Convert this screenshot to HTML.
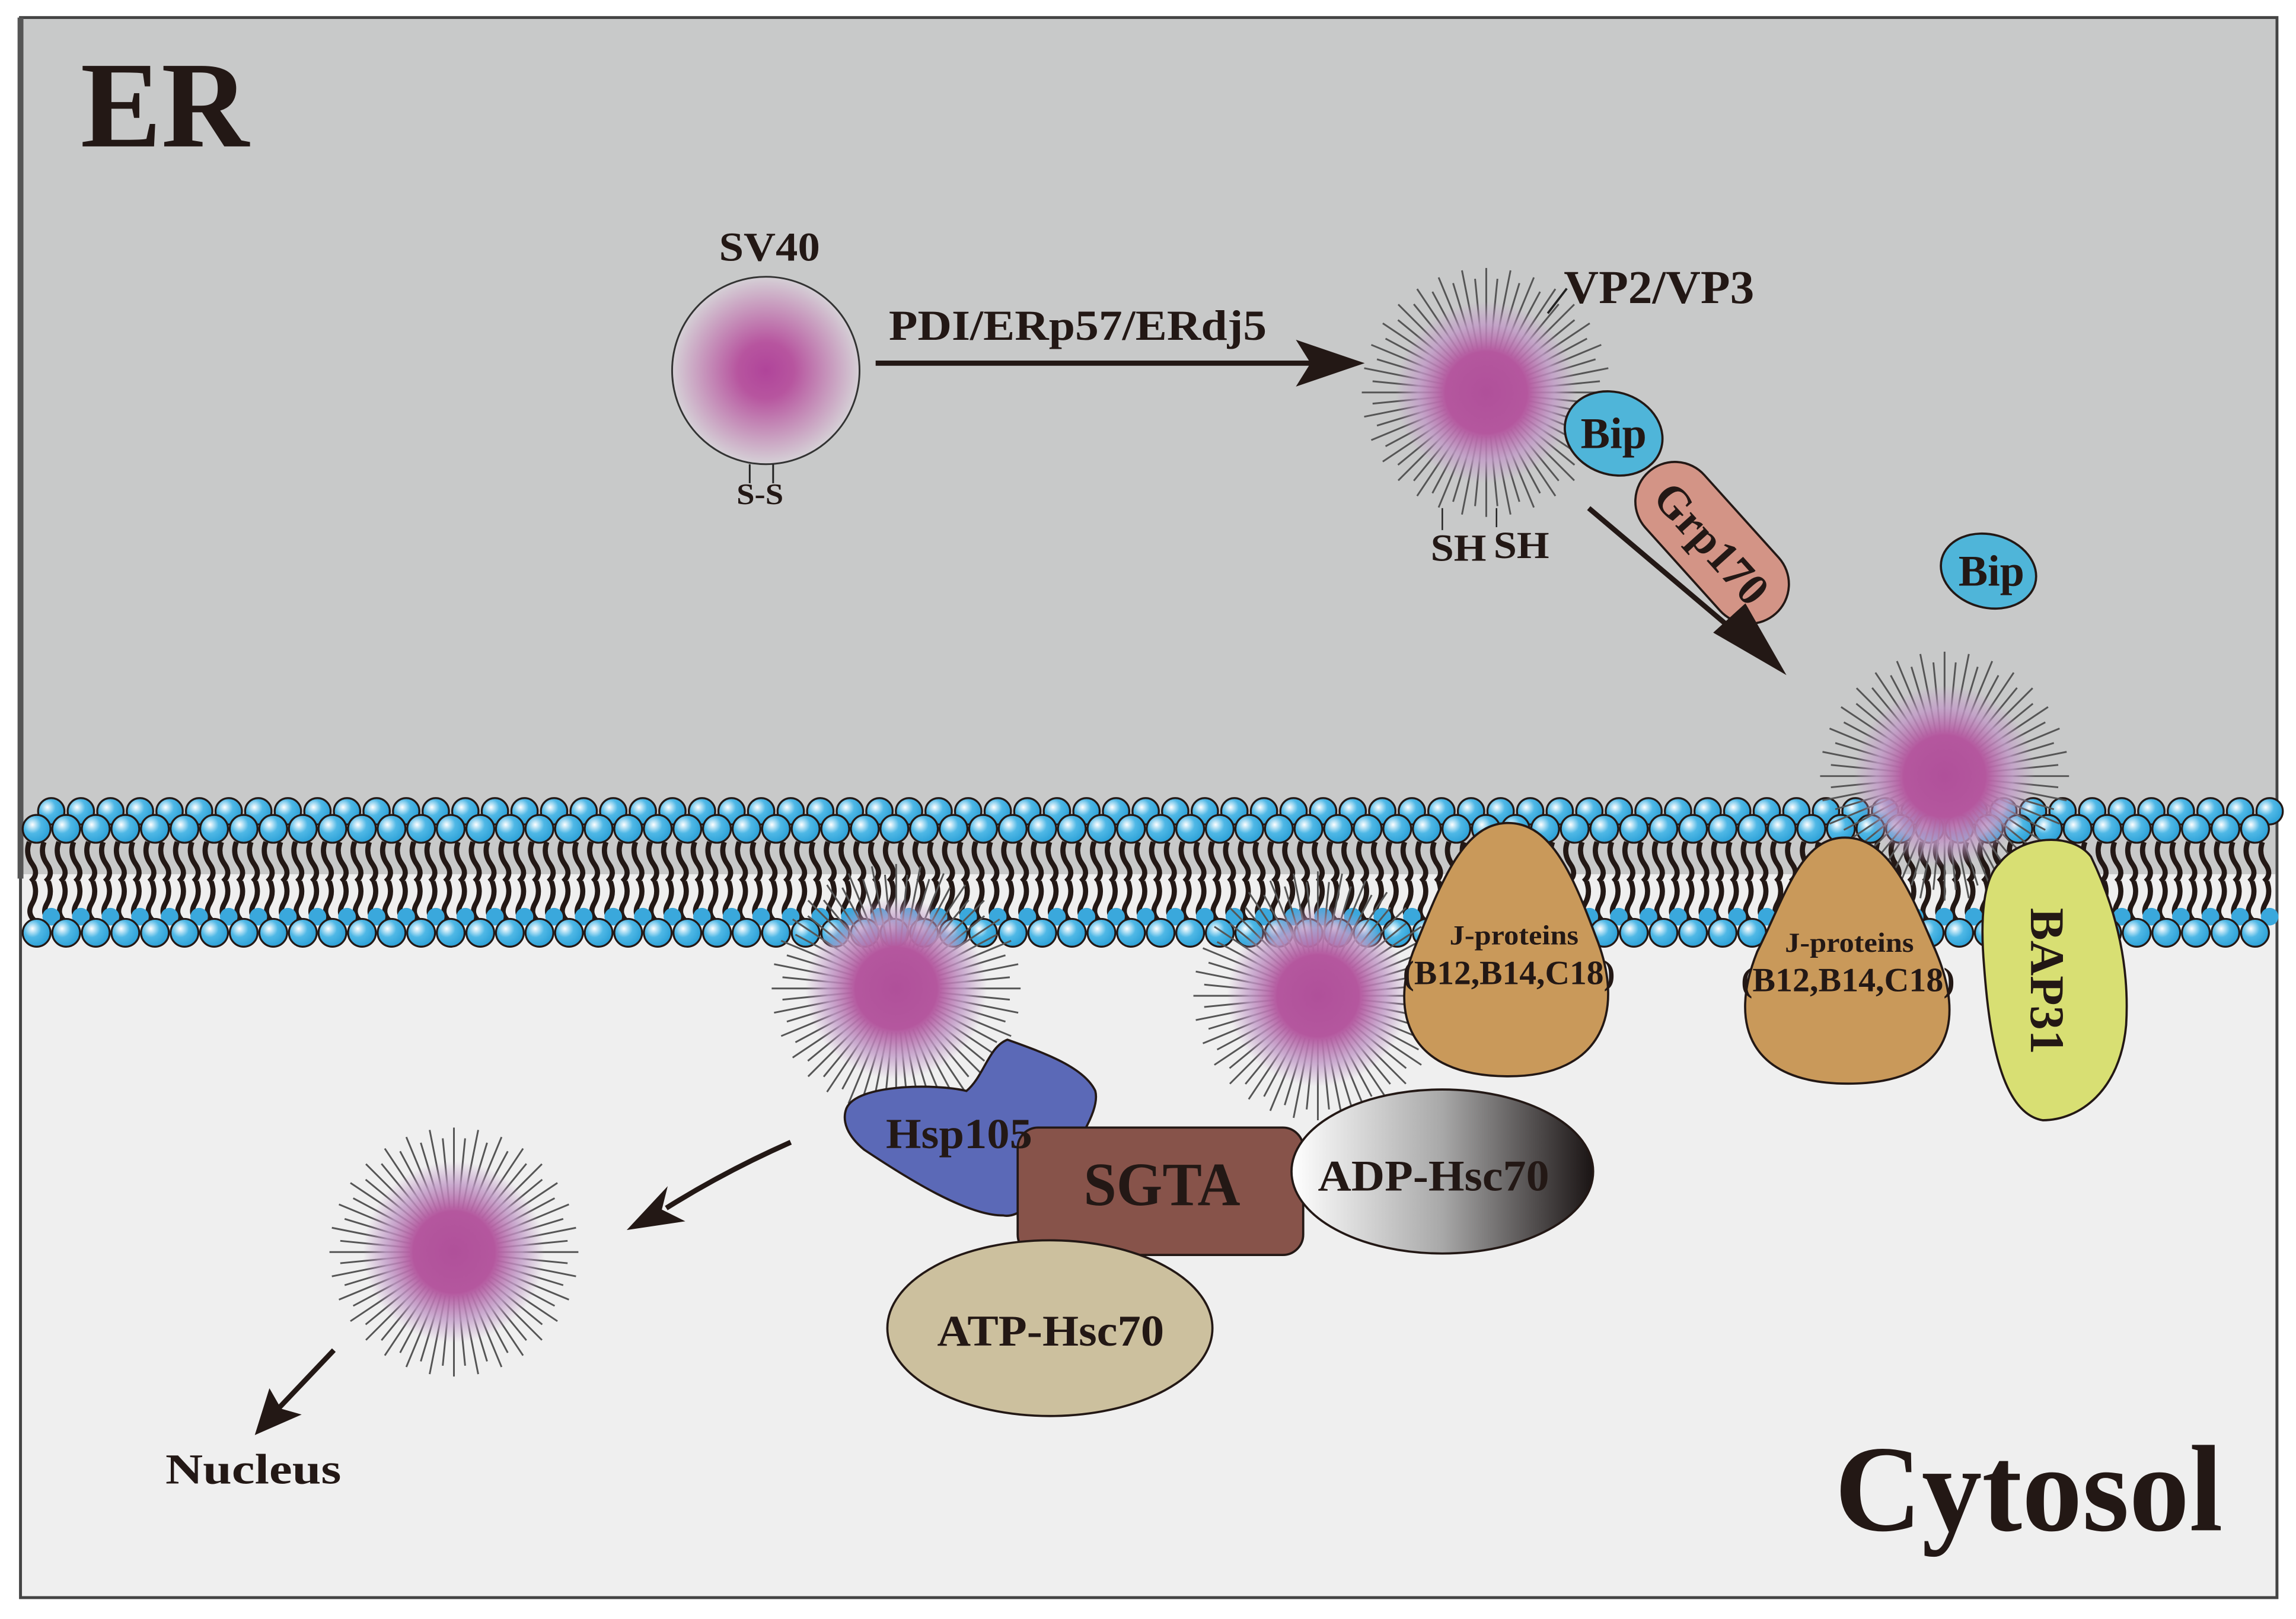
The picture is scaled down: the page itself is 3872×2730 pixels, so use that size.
<!DOCTYPE html>
<html><head><meta charset="utf-8">
<style>html,body{margin:0;padding:0;background:#fff}svg{display:block}
text{font-family:"Liberation Serif",serif;font-weight:bold;fill:#231815}</style></head>
<body>
<svg id="s" width="3872" height="2730" viewBox="0 0 1568 1105.6" preserveAspectRatio="none" xmlns="http://www.w3.org/2000/svg">
<defs>
<radialGradient id="vg"><stop offset="0" stop-color="#b0509a"/><stop offset="0.45" stop-color="#b4579e"/><stop offset="0.75" stop-color="#c29bc8" stop-opacity="0.8"/><stop offset="1" stop-color="#c29bc8" stop-opacity="0"/></radialGradient>
<radialGradient id="sv"><stop offset="0" stop-color="#b0449a"/><stop offset="0.3" stop-color="#b7559f"/><stop offset="1" stop-color="#d5d0d6"/></radialGradient>
<radialGradient id="hd" cx="0.35" cy="0.35" r="0.7"><stop offset="0" stop-color="#fff"/><stop offset="0.45" stop-color="#4fb8e6"/><stop offset="1" stop-color="#2a9fd6"/></radialGradient>
<linearGradient id="adp" x1="0" x2="1"><stop offset="0" stop-color="#fff"/><stop offset="0.5" stop-color="#a8a8a8"/><stop offset="1" stop-color="#1a1414"/></linearGradient>
</defs>
<rect x="14" y="12" width="1541" height="1079" fill="#efefef" stroke="#444" stroke-width="2"/>
<rect x="15" y="13" width="1539" height="584" fill="#c8c9c9"/>
<line x1="14" y1="12" x2="14" y2="600" stroke="#555" stroke-width="4"/>
<g id="mem"></g>
<text x="55" y="100" font-size="84" textLength="115" lengthAdjust="spacingAndGlyphs">ER</text>
<text x="1253" y="1045" font-size="84" textLength="265" lengthAdjust="spacingAndGlyphs">Cytosol</text>
<circle cx="523" cy="253" r="64" fill="url(#sv)" stroke="#333" stroke-width="1.2"/>
<text x="491" y="178" font-size="28" textLength="69" lengthAdjust="spacingAndGlyphs">SV40</text>
<line x1="512" y1="317" x2="512" y2="330" stroke="#222" stroke-width="1.2"/><line x1="528" y1="317" x2="528" y2="330" stroke="#222" stroke-width="1.2"/>
<text x="503" y="344" font-size="20" textLength="32" lengthAdjust="spacingAndGlyphs">S-S</text>
<line x1="598" y1="248" x2="900" y2="248" stroke="#231815" stroke-width="3.5"/>
<path d="M885,232 L932,248 L885,264 L895,248Z" fill="#231815"/>
<text x="607" y="232" font-size="29" textLength="258" lengthAdjust="spacingAndGlyphs">PDI/ERp57/ERdj5</text>
<g id="vir"></g>
<text x="1068" y="207" font-size="32" textLength="130" lengthAdjust="spacingAndGlyphs">VP2/VP3</text>
<line x1="1057" y1="214" x2="1070" y2="197" stroke="#222" stroke-width="1.5"/>
<line x1="985" y1="347" x2="985" y2="362" stroke="#222" stroke-width="1"/><line x1="1022" y1="347" x2="1022" y2="360" stroke="#222" stroke-width="1"/>
<text x="977" y="383" font-size="26" textLength="38" lengthAdjust="spacingAndGlyphs">SH</text><text x="1020" y="381" font-size="26" textLength="38" lengthAdjust="spacingAndGlyphs">SH</text>
<ellipse cx="1102" cy="296" rx="34" ry="28" transform="rotate(20 1102 296)" fill="#4fb5d9" stroke="#231815" stroke-width="1.5"/>
<text x="1102" y="306" font-size="30" text-anchor="middle">Bip</text>
<ellipse cx="1358" cy="390" rx="33" ry="25" transform="rotate(15 1358 390)" fill="#4fb5d9" stroke="#231815" stroke-width="1.5"/>
<text x="1360" y="400" font-size="30" text-anchor="middle">Bip</text>
<g transform="rotate(48 1170 370)"><rect x="1105" y="344" width="130" height="54" rx="27" fill="#d39486" stroke="#231815" stroke-width="1.5"/>
<text x="1120" y="382" font-size="31" textLength="100" lengthAdjust="spacingAndGlyphs">Grp170</text></g>
<line x1="1085" y1="347" x2="1195" y2="440" stroke="#231815" stroke-width="3.5"/>
<path d="M1170,432 L1220,461 L1192,412Z" fill="#231815"/>
<path d="M1030,562 C1060,562 1075,600 1090,640 C1110,690 1095,735 1030,735 C960,735 950,690 965,650 C985,600 1000,562 1030,562Z" fill="#c9995a" stroke="#231815" stroke-width="1.5"/>
<text x="990" y="645" font-size="19" textLength="88" lengthAdjust="spacingAndGlyphs">J-proteins</text>
<text x="958" y="672" font-size="23" textLength="145" lengthAdjust="spacingAndGlyphs">(B12,B14,C18)</text>
<path d="M1260,572 C1290,572 1305,610 1320,645 C1345,700 1330,740 1262,740 C1195,740 1180,700 1200,650 C1220,610 1230,572 1260,572Z" fill="#c9995a" stroke="#231815" stroke-width="1.5"/>
<text x="1219" y="650" font-size="19" textLength="88" lengthAdjust="spacingAndGlyphs">J-proteins</text>
<text x="1189" y="677" font-size="23" textLength="146" lengthAdjust="spacingAndGlyphs">(B12,B14,C18)</text>
<path d="M1365,590 C1380,570 1415,568 1428,585 C1440,610 1455,650 1452,700 C1448,745 1420,765 1395,765 C1365,760 1358,700 1355,660 C1352,625 1355,600 1365,590Z" fill="#d8df73" stroke="#231815" stroke-width="1.5"/>
<text transform="translate(1387,620) rotate(90)" font-size="33" textLength="100" lengthAdjust="spacingAndGlyphs">BAP31</text>
<path d="M578,757 C585,740 640,740 660,745 C672,735 675,715 688,710 C710,718 740,728 748,745 C752,760 730,790 715,808 C705,822 695,832 685,830 C660,830 620,805 590,785 C578,775 575,765 578,757Z" fill="#5b69b7" stroke="#231815" stroke-width="1.5"/>
<rect x="695" y="770" width="195" height="87" rx="14" fill="#87534a" stroke="#231815" stroke-width="1.5"/>
<text x="605" y="784" font-size="29" textLength="100" lengthAdjust="spacingAndGlyphs">Hsp105</text>
<text x="740" y="823" font-size="42" textLength="107" lengthAdjust="spacingAndGlyphs">SGTA</text>
<ellipse cx="985" cy="800" rx="103" ry="56" fill="url(#adp)" stroke="#231815" stroke-width="1.5"/>
<text x="900" y="813" font-size="30" textLength="158" lengthAdjust="spacingAndGlyphs">ADP-Hsc70</text>
<ellipse cx="717" cy="907" rx="111" ry="60" fill="#ccc09e" stroke="#231815" stroke-width="1.5"/>
<text x="640" y="919" font-size="30" textLength="155" lengthAdjust="spacingAndGlyphs">ATP-Hsc70</text>
<path d="M540,780 Q495,800 455,825" fill="none" stroke="#231815" stroke-width="3.5"/>
<path d="M428,840 L456,810 L452,826 L468,834Z" fill="#231815"/>
<line x1="228" y1="922" x2="190" y2="962" stroke="#231815" stroke-width="3.5"/>
<path d="M174,980 L184,948 L192,962 L206,966Z" fill="#231815"/>
<text x="113" y="1013" font-size="29" textLength="120" lengthAdjust="spacingAndGlyphs">Nucleus</text>
</svg>
<script>
var NS="http://www.w3.org/2000/svg";
function el(p,t,a){var e=document.createElementNS(NS,t);for(var k in a)e.setAttribute(k,a[k]);p.appendChild(e);return e;}
var m=document.getElementById("mem");
var d="";
for(var x=20;x<1555;x+=10.1){d+="M"+x+",575 q-3,8 2,15 t-1,12 M"+(x+3)+",602 q3,8 -1,15 t2,12 ";}
el(m,"path",{d:d,stroke:"#231815","stroke-width":"3.5",fill:"none"});
for(var x=25;x<1555;x+=20.2){el(m,"circle",{cx:x+10,cy:554,r:9,fill:"url(#hd)",stroke:"#231815","stroke-width":"1.3"});}
for(var x=25;x<1555;x+=20.2){el(m,"circle",{cx:x,cy:566,r:9.5,fill:"url(#hd)",stroke:"#231815","stroke-width":"1.3"});}
for(var x=25;x<1555;x+=20.2){el(m,"circle",{cx:x+10,cy:626,r:6,fill:"#3aa8dc"});}
for(var x=25;x<1555;x+=20.2){el(m,"circle",{cx:x,cy:637,r:9.5,fill:"url(#hd)",stroke:"#231815","stroke-width":"1.3"});}
var v=document.getElementById("vir");
[[1015,268],[1328,530],[612,675],[900,680],[310,855]].forEach(function(c){
 var g=el(v,"g",{});var dd="";
 for(var i=0;i<64;i++){var a=i*Math.PI*2/64;var r2=(i%2?78:85);
  dd+="M"+(c[0]+Math.cos(a)*30)+","+(c[1]+Math.sin(a)*30)+"L"+(c[0]+Math.cos(a)*r2)+","+(c[1]+Math.sin(a)*r2);}
 el(g,"path",{d:dd,stroke:"#555","stroke-width":"1.2",fill:"none"});
 el(g,"circle",{cx:c[0],cy:c[1],r:62,fill:"url(#vg)"});
});
</script>
</body></html>
